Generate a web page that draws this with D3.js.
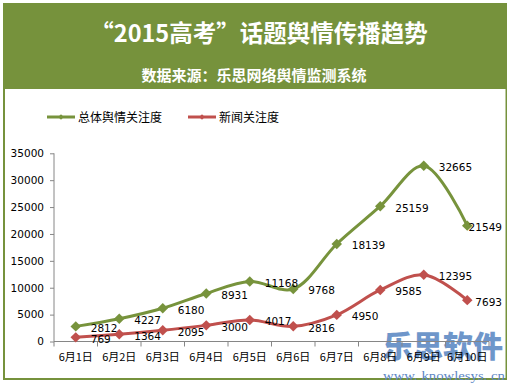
<!DOCTYPE html>
<html><head><meta charset="utf-8">
<script src="https://cdn.jsdelivr.net/npm/d3@7"></script>
<style>html,body{margin:0;padding:0;background:#fff;}svg{display:block;}</style>
</head><body>
<script>
const categories = ["6月1日","6月2日","6月3日","6月4日","6月5日","6月6日","6月7日","6月8日","6月9日","6月10日"];
const totalValues = [2812,4227,6180,8931,11168,9768,18139,25159,32665,21549];
const newsValues = [769,1364,2095,3000,4017,2816,4950,9585,12395,7693];
const yTicks = [0,5000,10000,15000,20000,25000,30000,35000];
const seriesNames = ["总体舆情关注度","新闻关注度"];
const titleText = "“2015高考”话题舆情传播趋势";
const subtitleText = "数据来源：乐思网络舆情监测系统";

const W = 510, H = 383;
const svg = d3.select("body").append("svg").attr("width", W).attr("height", H);
const green = "#77933C", red = "#C0504D", headerGreen = "#76923C";

// frame
svg.append("rect").attr("x",3).attr("y",3).attr("width",504).attr("height",377).attr("fill",headerGreen);
svg.append("rect").attr("x",5).attr("y",89).attr("width",500.5).attr("height",289).attr("fill","#fff");

svg.append("text").attr("x",259).attr("y",42).attr("text-anchor","middle")
  .attr("font-family","'Noto Sans CJK SC', sans-serif").attr("font-weight","bold")
  .attr("font-size",23.5).attr("fill","#fff").text(titleText);
svg.append("text").attr("x",254).attr("y",81).attr("text-anchor","middle")
  .attr("font-family","'Noto Sans CJK SC', sans-serif").attr("font-weight","bold")
  .attr("font-size",15).attr("fill","#fff").text(subtitleText);

// watermark
svg.append("text").attr("x",443).attr("y",357).attr("text-anchor","middle")
  .attr("font-family","'Noto Sans CJK SC', sans-serif").attr("font-weight","900")
  .attr("font-size",30).attr("fill","#4A7CBE").attr("opacity",0.8)
  .attr("textLength",120).attr("lengthAdjust","spacing").text("乐思软件");
svg.append("text").attr("x",383).attr("y",380)
  .attr("font-family","'Liberation Serif', serif")
  .attr("font-size",13).attr("fill","#5C86C4")
  .attr("textLength",122).attr("lengthAdjust","spacingAndGlyphs").text("www. knowlesys. cn");

const x = d3.scaleBand().domain(categories).range([54,489]);
const y = d3.scaleLinear().domain([0,35000]).range([341.5,153.3]);
const cx = d => x(d) + x.bandwidth()/2;

// y axis
const yAxis = svg.append("g").attr("transform","translate(54,0)")
  .call(d3.axisLeft(y).tickValues(yTicks).tickSize(4).tickPadding(6).tickFormat(d3.format("d")));
yAxis.select(".domain").attr("stroke","#868686").attr("d","M0,153.3V341.5");
yAxis.selectAll(".tick line").attr("stroke","#868686");
yAxis.selectAll("text").attr("font-family","'DejaVu Sans', Verdana, sans-serif").attr("font-size",10.5).attr("fill","#000");

// x axis
const xAxis = svg.append("g").attr("transform","translate(0,341.5)")
  .call(d3.axisBottom(x).tickSize(0).tickPadding(12));
xAxis.select(".domain").attr("stroke","#868686").attr("d","M54,0H489");
xAxis.selectAll("text").attr("font-family","'Noto Sans CJK SC', sans-serif").attr("font-size",11).attr("fill","#000");
const bounds = categories.map(c => x(c)).concat([x(categories[categories.length-1]) + x.bandwidth()]);
xAxis.selectAll("line.bt").data(bounds).enter().append("line").attr("class","bt")
  .attr("x1",d=>d).attr("x2",d=>d).attr("y1",0).attr("y2",5).attr("stroke","#868686");

const line = d3.line().x((d,i)=>cx(categories[i])).y(d=>y(d)).curve(d3.curveCatmullRom.alpha(0.5));
const diamond = d3.symbol().type(d3.symbolDiamond2).size(70);

function drawSeries(vals, color){
  const g = svg.append("g");
  g.append("path").attr("d", line(vals)).attr("fill","none").attr("stroke",color).attr("stroke-width",3);
  g.selectAll("path.m").data(vals).enter().append("path").attr("class","m")
    .attr("d", diamond).attr("transform",(d,i)=>`translate(${cx(categories[i])},${y(d)})`).attr("fill",color);
  g.selectAll("text").data(vals).enter().append("text")
    .attr("x",(d,i)=>cx(categories[i])+15).attr("y",d=>y(d)+5.5)
    .attr("font-family","'DejaVu Sans', Verdana, sans-serif").attr("font-size",10.5).attr("fill","#000")
    .text(d=>d)
    .each(function(){
      const w = this.getComputedTextLength();
      const x0 = +this.getAttribute("x");
      if (x0 + w > 502) this.setAttribute("x", 502 - w);
    });
}
drawSeries(totalValues, green);
drawSeries(newsValues, red);

// legend
const legend = [{n:seriesNames[0],c:green,x:47},{n:seriesNames[1],c:red,x:188}];
legend.forEach(l=>{
  svg.append("line").attr("x1",l.x).attr("x2",l.x+28).attr("y1",117).attr("y2",117).attr("stroke",l.c).attr("stroke-width",3);
  svg.append("path").attr("d",d3.symbol().type(d3.symbolDiamond2).size(20)).attr("transform",`translate(${l.x+14},117)`).attr("fill",l.c);
  svg.append("text").attr("x",l.x+31).attr("y",121.5).attr("font-family","'Noto Sans CJK SC', sans-serif")
    .attr("font-size",12).attr("fill","#000").text(l.n);
});
</script>
</body></html>
